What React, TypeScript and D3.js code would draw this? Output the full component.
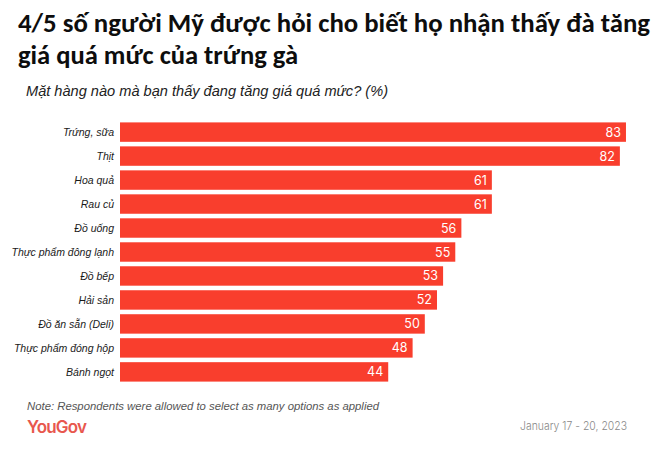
import React from "react";
import * as d3 from "d3";

const categories = [
  "Trứng, sữa",
  "Thịt",
  "Hoa quả",
  "Rau củ",
  "Đồ uống",
  "Thực phẩm đông lạnh",
  "Đồ bếp",
  "Hải sản",
  "Đồ ăn sẵn (Deli)",
  "Thực phẩm đóng hộp",
  "Bánh ngọt",
];
const values = [83, 82, 61, 61, 56, 55, 53, 52, 50, 48, 44];

const titleLines = [
  "4/5 số người Mỹ được hỏi cho biết họ nhận thấy đà tăng",
  "giá quá mức của trứng gà",
];
const subtitle = "Mặt hàng nào mà bạn thấy đang tăng giá quá mức? (%)";
const note = "Note: Respondents were allowed to select as many options as applied";
const dateText = "January 17 - 20, 2023";

const W = 668;
const H = 457;

export default function App() {
  const x = d3.scaleLinear().domain([0, 100]).range([120, 729.6]);
  const y = d3
    .scaleBand<string>()
    .domain(categories)
    .range([120, 384])
    .paddingInner(0.19)
    .paddingOuter(0.1);
  const data = categories.map((c, i) => ({ c, v: values[i] }));
  return (
    <svg
      width={W}
      height={H}
      style={{ position: "absolute", left: 0, top: 0, background: "#fff" }}
    >
      <text
        x={18}
        y={32}
        fontFamily="Carlito, 'Noto Sans', sans-serif"
        fontWeight={700}
        fontSize={27}
        fill="#0d0d0d"
        textLength={632}
        lengthAdjust="spacingAndGlyphs"
      >
        {titleLines[0]}
      </text>
      <text
        x={18}
        y={64}
        fontFamily="Carlito, 'Noto Sans', sans-serif"
        fontWeight={700}
        fontSize={27}
        fill="#0d0d0d"
        textLength={280}
        lengthAdjust="spacingAndGlyphs"
      >
        {titleLines[1]}
      </text>
      <text
        x={26}
        y={96}
        fontFamily="'Liberation Sans', 'DejaVu Sans', sans-serif"
        fontStyle="italic"
        fontSize={14}
        fill="#222"
        textLength={362}
        lengthAdjust="spacingAndGlyphs"
      >
        {subtitle}
      </text>
      {data.map((d) => (
        <g key={d.c}>
          <rect
            x={x(0)}
            y={y(d.c)}
            width={x(d.v) - x(0)}
            height={y.bandwidth()}
            fill="#f93e2d"
          />
          <text
            x={114}
            y={(y(d.c) as number) + y.bandwidth() / 2}
            dy="0.35em"
            textAnchor="end"
            fontFamily="'Liberation Sans', 'DejaVu Sans', sans-serif"
            fontStyle="italic"
            fontSize={10.5}
            fill="#1a1a1a"
          >
            {d.c}
          </text>
          <text
            x={x(d.v) - 5}
            y={(y(d.c) as number) + y.bandwidth() / 2}
            dy="0.36em"
            textAnchor="end"
            fontFamily="Inter, 'Noto Sans', sans-serif"
            fontSize={12.5}
            fill="#fff"
          >
            {d.v}
          </text>
        </g>
      ))}
      <text
        x={27}
        y={410}
        fontFamily="'Liberation Sans', 'DejaVu Sans', sans-serif"
        fontStyle="italic"
        fontSize={10.5}
        fill="#555"
        textLength={352}
        lengthAdjust="spacingAndGlyphs"
      >
        {note}
      </text>
      <text
        x={27}
        y={433}
        fontFamily="Inter, 'Noto Sans', sans-serif"
        fontWeight={600}
        fontSize={17}
        fill="#e8574e"
        letterSpacing={-0.8}
      >
        YouGov
      </text>
      <text
        x={627}
        y={430}
        textAnchor="end"
        fontFamily="Inter, 'Noto Sans', sans-serif"
        fontWeight={300}
        fontSize={11}
        fill="#888"
        textLength={107}
        lengthAdjust="spacingAndGlyphs"
      >
        {dateText}
      </text>
    </svg>
  );
}
